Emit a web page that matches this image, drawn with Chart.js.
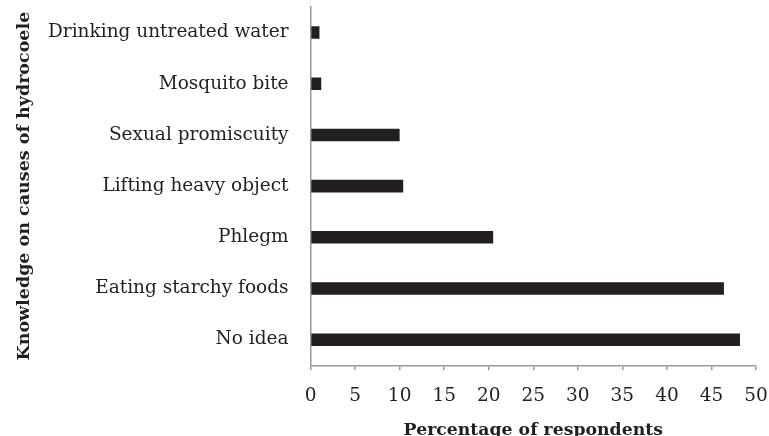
<!DOCTYPE html>
<html lang="en">
<head>
    <meta charset="UTF-8">
    <title>Knowledge on causes of hydrocoele</title>
    <script src="https://cdn.jsdelivr.net/npm/chart.js"></script>
    <style>
        html, body {
            margin: 0;
            padding: 0;
            background: #ffffff;
            overflow: hidden;
        }
        #wrap {
            position: relative;
            width: 769px;
            height: 439px;
        }
    </style>
</head>
<body>
    <div id="wrap">
        <canvas id="grafica"></canvas>
    </div>

    <script>
        // categories from top to bottom, as in the picture
        const causas = [
            "Drinking untreated water",
            "Mosquito bite",
            "Sexual promiscuity",
            "Lifting heavy object",
            "Phlegm",
            "Eating starchy foods",
            "No idea"
        ];
        const porcentajes = [1.0, 1.2, 10.0, 10.4, 20.5, 46.4, 48.2];
        const ticksX = [0, 5, 10, 15, 20, 25, 30, 35, 40, 45, 50];

        const letra = "'DejaVu Serif', 'Liberation Serif', serif";
        const gris = "#9a9a9a";
        const tinta = "#231f20";

        new Chart(document.getElementById("grafica"), {
            type: "bar",
            data: {
                labels: causas,
                datasets: [{
                    label: "Percentage of respondents",
                    data: porcentajes,
                    backgroundColor: tinta,
                    borderWidth: 0,
                    categoryPercentage: 1,
                    barPercentage: 0.245
                }]
            },
            options: {
                indexAxis: "y",
                responsive: true,
                maintainAspectRatio: false,
                animation: false,
                layout: { padding: { top: 7, right: 13, left: 14, bottom: 0 } },
                plugins: {
                    legend: { display: false },
                    tooltip: { enabled: false }
                },
                scales: {
                    x: {
                        min: 0,
                        max: 50,
                        afterBuildTicks: axis => {
                            axis.ticks = ticksX.map(v => ({ value: v }));
                        },
                        grid: {
                            drawOnChartArea: false,
                            drawTicks: true,
                            tickLength: 5,
                            color: gris,
                            lineWidth: 1.5
                        },
                        border: { color: gris, width: 1.5 },
                        ticks: {
                            color: tinta,
                            padding: 0,
                            maxRotation: 0,
                            // tall line box pushes the numbers down without widening the right margin
                            font: { family: letra, size: 18.5, lineHeight: 2.78 }
                        },
                        title: {
                            display: true,
                            text: "Percentage of respondents",
                            color: tinta,
                            padding: { top: 0, bottom: 0 },
                            font: { family: letra, size: 17.3, weight: "bold", lineHeight: 1.0 }
                        }
                    },
                    y: {
                        // invisible tick marks make the gap between labels and axis
                        grid: {
                            drawOnChartArea: false,
                            drawTicks: true,
                            tickLength: 22,
                            color: "rgba(0,0,0,0)"
                        },
                        border: { color: gris, width: 1.5 },
                        ticks: {
                            color: tinta,
                            padding: 0,
                            font: { family: letra, size: 18.5, lineHeight: 0.7 }
                        },
                        title: {
                            display: true,
                            text: "Knowledge on causes of hydrocoele",
                            color: tinta,
                            padding: { top: 0, bottom: 13 },
                            font: { family: letra, size: 17.5, weight: "bold" }
                        }
                    }
                }
            }
        });
    </script>
</body>
</html>
